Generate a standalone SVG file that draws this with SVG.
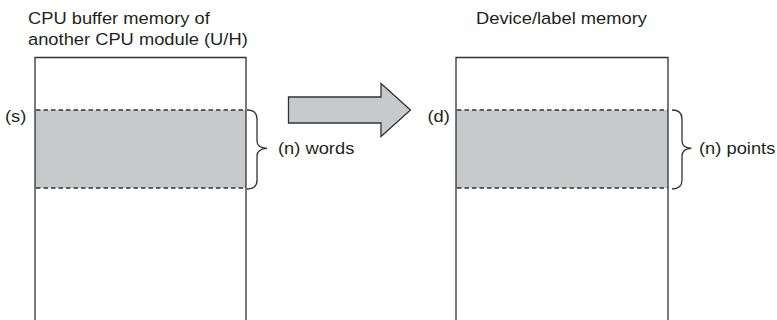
<svg xmlns="http://www.w3.org/2000/svg" width="777" height="320" viewBox="0 0 777 320">
<style>
text{font-family:"Liberation Sans",Arial,sans-serif;font-size:16.5px;fill:#231f20}
.box{fill:none;stroke:#333;stroke-width:1.3}
.shade{fill:#c8c9cb;stroke:none}
.dash{stroke:#333;stroke-width:1.3;stroke-dasharray:4.5 3;fill:none}
.brace{fill:none;stroke:#333;stroke-width:1.3}
.arrow{fill:#c8c9cb;stroke:#333;stroke-width:1.3;stroke-linejoin:miter}
</style>
<rect width="777" height="320" fill="#fff"/>
<g id="source">
<text transform="translate(28,24) scale(1.11,1)">CPU buffer memory of</text>
<text transform="translate(28,45) scale(1.11,1)">another CPU module (U/H)</text>
<rect class="shade" x="35" y="110" width="211" height="78"/>
<path class="box" d="M35,321 V57.5 H246 V321"/>
<line class="dash" x1="36" y1="110" x2="246" y2="110"/>
<line class="dash" x1="36" y1="188" x2="246" y2="188"/>
<text transform="translate(5,122) scale(1.11,1)">(s)</text>
</g>
<g id="destination">
<text transform="translate(476,23.5) scale(1.11,1)">Device/label memory</text>
<rect class="shade" x="456" y="110" width="212" height="78"/>
<path class="box" d="M456,321 V57.5 H668 V321"/>
<line class="dash" x1="457" y1="110" x2="668" y2="110"/>
<line class="dash" x1="457" y1="188" x2="668" y2="188"/>
<text transform="translate(427.5,122) scale(1.11,1)">(d)</text>
</g>
<g id="connectors">
<path class="arrow" d="M288.5,97 H381 V83.5 L410.5,110 L381,136.5 V123 H288.5 Z"/>
<path class="brace" d="M247,110 C254,110 257,113 257,119 V141 C257,146 260,148 267,148.3 C260,148.6 257,151 257,156 V180 C257,186 254,189 247,189"/>
<path class="brace" d="M672,110 C679,110 682,113 682,119 V141 C682,146 685,148 691.5,148.3 C685,148.6 682,151 682,156 V180 C682,186 679,189 672,189"/>
</g>
<g id="labels">
<text transform="translate(278,153.5) scale(1.11,1)">(n) words</text>
<text transform="translate(699,153.5) scale(1.11,1)">(n) points</text>
</g>
</svg>
